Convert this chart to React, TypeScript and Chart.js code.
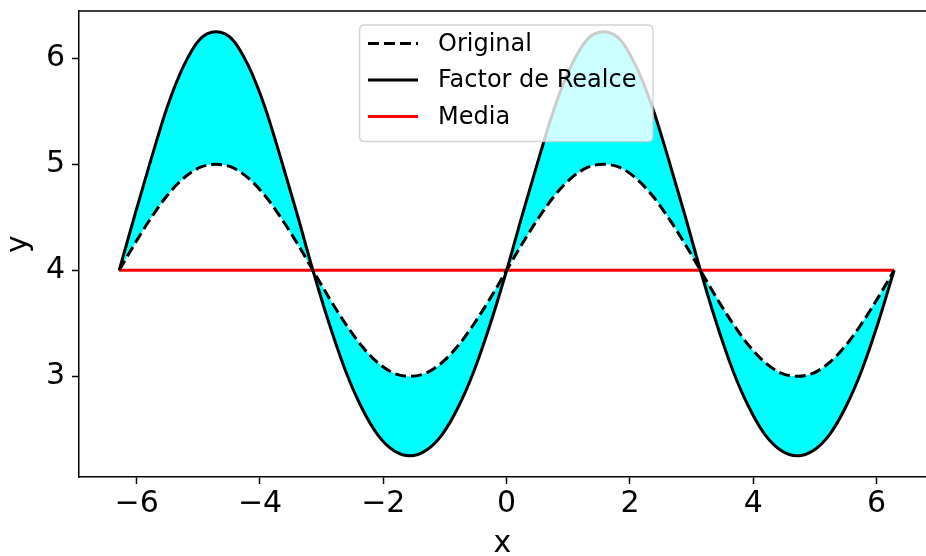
import React, { useEffect, useRef } from "react";
import { Chart, registerables } from "chart.js";

Chart.register(...registerables);

const FONT = "'DejaVu Sans', 'Liberation Sans', sans-serif";

// x samples (radians)
const xValues = [
  -6.283, -6.021, -5.76, -5.498, -5.236, -4.974, -4.712, -4.451, -4.189, -3.927, -3.665, -3.403,
  -3.142, -2.88, -2.618, -2.356, -2.094, -1.833, -1.571, -1.309, -1.047, -0.785, -0.524, -0.262,
  0, 0.262, 0.524, 0.785, 1.047, 1.309, 1.571, 1.833, 2.094, 2.356, 2.618, 2.88,
  3.142, 3.403, 3.665, 3.927, 4.189, 4.451, 4.712, 4.974, 5.236, 5.498, 5.76, 6.021, 6.283,
];

const originalValues = [
  4, 4.26, 4.5, 4.71, 4.87, 4.97, 5, 4.97, 4.87, 4.71, 4.5, 4.26,
  4, 3.74, 3.5, 3.29, 3.13, 3.03, 3, 3.03, 3.13, 3.29, 3.5, 3.74,
  4, 4.26, 4.5, 4.71, 4.87, 4.97, 5, 4.97, 4.87, 4.71, 4.5, 4.26,
  4, 3.74, 3.5, 3.29, 3.13, 3.03, 3, 3.03, 3.13, 3.29, 3.5, 3.74, 4,
];

const enhancedValues = [
  4, 4.54, 5.06, 5.55, 5.93, 6.18, 6.25, 6.18, 5.93, 5.55, 5.06, 4.54,
  4, 3.5, 3.06, 2.71, 2.45, 2.3, 2.25, 2.3, 2.45, 2.71, 3.06, 3.5,
  4, 4.54, 5.06, 5.55, 5.93, 6.18, 6.25, 6.18, 5.93, 5.55, 5.06, 4.54,
  4, 3.5, 3.06, 2.71, 2.45, 2.3, 2.25, 2.3, 2.45, 2.71, 3.06, 3.5, 4,
];

const meanX = [-6.283, 6.283];
const meanValues = [4, 4];

const xTicks = [-6, -4, -2, 0, 2, 4, 6];
const yTicks = [3, 4, 5, 6];

const seriesLabels = ["Original", "Factor de Realce", "Media"];

const fmt = (v: number) => (v < 0 ? "\u2212" + Math.abs(v) : String(v));

const frameAndLegend = {
  id: "frameAndLegend",
  afterDraw(chart: any) {
    const { ctx, chartArea } = chart;
    ctx.save();
    // top spine
    ctx.strokeStyle = "#000";
    ctx.lineWidth = 1.5;
    ctx.beginPath();
    ctx.moveTo(chartArea.left, chartArea.top);
    ctx.lineTo(chartArea.right, chartArea.top);
    ctx.stroke();

    // legend
    const bx = 359.5, by = 25, bw = 293.5, bh = 116.5, r = 5;
    ctx.beginPath();
    ctx.moveTo(bx + r, by);
    ctx.lineTo(bx + bw - r, by);
    ctx.quadraticCurveTo(bx + bw, by, bx + bw, by + r);
    ctx.lineTo(bx + bw, by + bh - r);
    ctx.quadraticCurveTo(bx + bw, by + bh, bx + bw - r, by + bh);
    ctx.lineTo(bx + r, by + bh);
    ctx.quadraticCurveTo(bx, by + bh, bx, by + bh - r);
    ctx.lineTo(bx, by + r);
    ctx.quadraticCurveTo(bx, by, bx + r, by);
    ctx.closePath();
    ctx.fillStyle = "rgba(255,255,255,0.8)";
    ctx.fill();
    ctx.strokeStyle = "rgba(204,204,204,0.8)";
    ctx.lineWidth = 1.5;
    ctx.stroke();

    const rows = [44.5, 81, 117.5];
    const styles = [
      { color: "#000", dash: [11, 5] },
      { color: "#000", dash: [] },
      { color: "#ff0000", dash: [] },
    ];
    ctx.font = `24px ${FONT}`;
    ctx.textBaseline = "middle";
    ctx.textAlign = "left";
    rows.forEach((ry, i) => {
      ctx.beginPath();
      ctx.setLineDash(styles[i].dash);
      ctx.strokeStyle = styles[i].color;
      ctx.lineWidth = 3;
      ctx.moveTo(368, ry - 1);
      ctx.lineTo(418, ry - 1);
      ctx.stroke();
      ctx.setLineDash([]);
      ctx.fillStyle = "#000";
      ctx.fillText(seriesLabels[i], 438, ry);
    });
    ctx.restore();
  },
};

export default function App() {
  const ref = useRef<HTMLCanvasElement>(null);

  useEffect(() => {
    document.body.style.margin = "0";
    const canvas = ref.current;
    if (!canvas) return;
    const chart = new Chart(canvas, {
      type: "line",
      data: {
        datasets: [
          {
            label: seriesLabels[0],
            data: xValues.map((x, i) => ({ x, y: originalValues[i] })),
            borderColor: "#000",
            borderDash: [11, 5],
            borderWidth: 3,
            pointRadius: 0,
            cubicInterpolationMode: "monotone",
            fill: false,
          },
          {
            label: seriesLabels[1],
            data: xValues.map((x, i) => ({ x, y: enhancedValues[i] })),
            borderColor: "#000",
            borderWidth: 3,
            pointRadius: 0,
            cubicInterpolationMode: "monotone",
            fill: { target: 0 },
            backgroundColor: "#00ffff",
          },
          {
            label: seriesLabels[2],
            data: meanX.map((x, i) => ({ x, y: meanValues[i] })),
            borderColor: "#ff0000",
            borderWidth: 3,
            pointRadius: 0,
            fill: false,
          },
        ],
      },
      options: {
        animation: false,
        responsive: false,
        events: [],
        layout: { padding: { top: 11, right: 0, left: 0, bottom: 0 } },
        plugins: {
          legend: { display: false },
          tooltip: { enabled: false },
          filler: { drawTime: "beforeDatasetsDraw" },
        } as any,
        scales: {
          x: {
            type: "linear",
            min: -6.935,
            max: 6.8,
            afterBuildTicks: (s: any) => {
              s.ticks = xTicks.map((v) => ({ value: v }));
            },
            afterFit: (s: any) => {
              s.height = 79;
              s.paddingLeft = 0;
              s.paddingRight = 0;
            },
            ticks: {
              font: { family: FONT, size: 30 },
              color: "#000",
              padding: 2,
              maxRotation: 0,
              autoSkip: false,
              callback: (v: any) => fmt(Number(v)),
            },
            grid: {
              display: true,
              drawOnChartArea: false,
              drawTicks: true,
              tickLength: 7,
              tickColor: "#000",
              tickWidth: 1.5,
            },
            border: { display: true, color: "#000", width: 1.5 },
            title: {
              display: true,
              text: "x",
              color: "#000",
              font: { family: FONT, size: 30, lineHeight: 0.76 },
              padding: 0,
            },
          },
          y: {
            type: "linear",
            min: 2.05,
            max: 6.446,
            afterBuildTicks: (s: any) => {
              s.ticks = yTicks.map((v) => ({ value: v }));
            },
            afterFit: (s: any) => {
              s.width = 79;
              s.paddingTop = 0;
              s.paddingBottom = 0;
            },
            ticks: {
              font: { family: FONT, size: 30 },
              color: "#000",
              padding: 7,
              autoSkip: false,
              callback: (v: any) => fmt(Number(v)),
            },
            grid: {
              display: true,
              drawOnChartArea: false,
              drawTicks: true,
              tickLength: 7,
              tickColor: "#000",
              tickWidth: 1.5,
            },
            border: { display: true, color: "#000", width: 1.5 },
            title: {
              display: true,
              text: "y",
              color: "#000",
              font: { family: FONT, size: 30, lineHeight: 1.3 },
              padding: 0,
            },
          },
        },
      },
      plugins: [frameAndLegend],
    });
    return () => chart.destroy();
  }, []);

  return (
    <div style={{ position: "fixed", left: 0, top: 0, width: 926, height: 556, overflow: "hidden", background: "#fff" }}>
      <canvas ref={ref} width={926} height={556} style={{ display: "block" }} />
    </div>
  );
}
